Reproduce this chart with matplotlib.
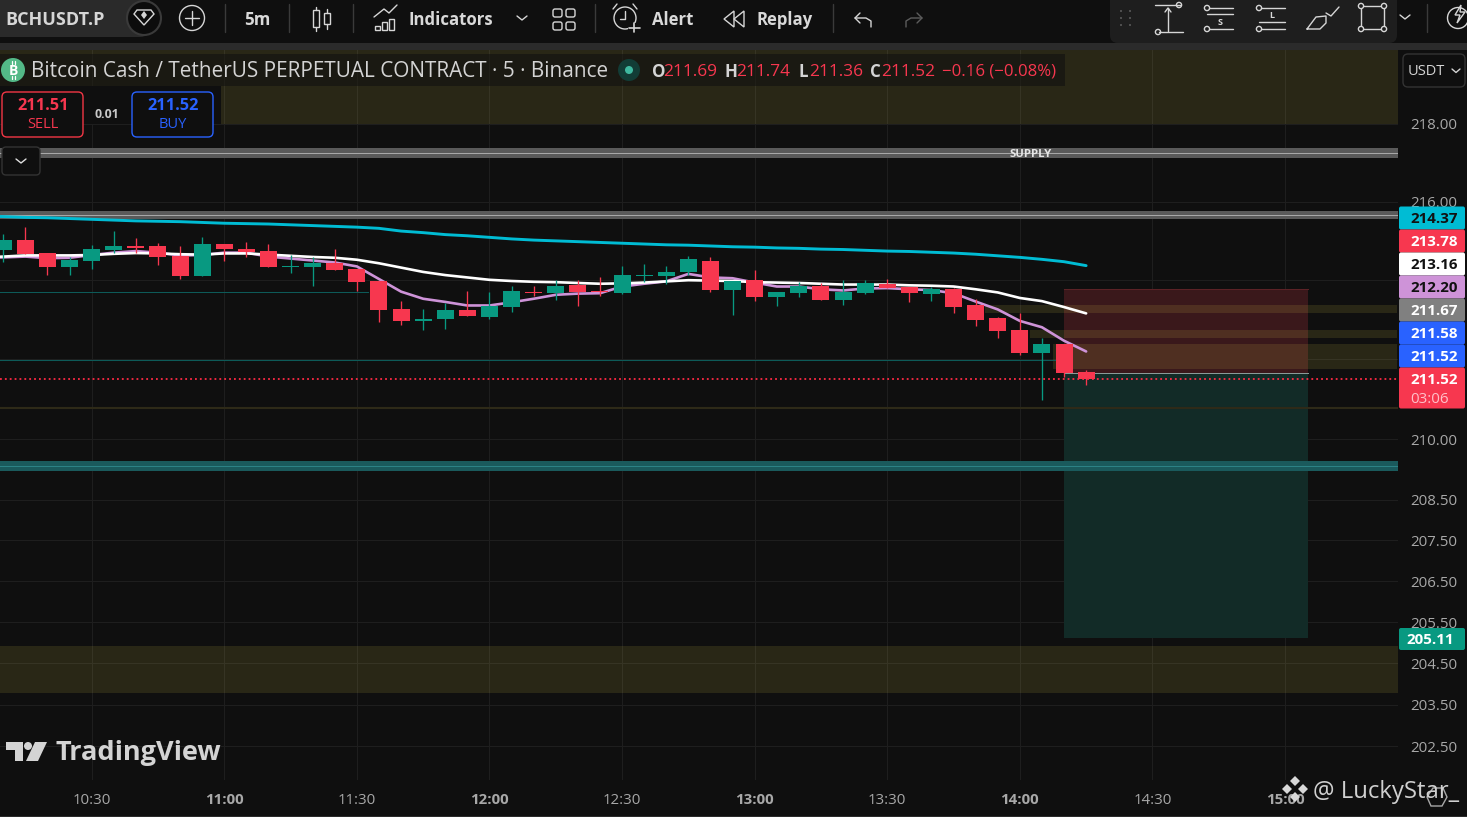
import matplotlib
matplotlib.use('Agg')
import matplotlib.pyplot as plt
from matplotlib.patches import Circle, FancyBboxPatch, Polygon, Rectangle
from matplotlib.ticker import FixedLocator, NullLocator

plt.rcParams['font.family'] = ['Open Sans', 'DejaVu Sans']

# candles, one per 5 minutes from 10:10
opens = [214.77, 215.02, 214.69, 214.34, 214.49, 214.77, 214.87, 214.87, 214.62, 214.11,
         214.92, 214.80, 214.74, 214.34, 214.34, 214.44, 214.29, 213.98, 213.27, 212.97,
         213.02, 213.25, 213.07, 213.32, 213.70, 213.68, 213.88, 213.73, 213.68, 214.11,
         214.11, 214.21, 214.49, 213.75, 214.01, 213.58, 213.68, 213.86, 213.50, 213.68,
         213.91, 213.83, 213.65, 213.78, 213.37, 213.04, 212.74, 212.15, 212.38, 211.69]
highs = [215.18, 215.35, 214.69, 214.59, 214.90, 215.25, 215.08, 214.95, 214.87, 215.10,
         214.92, 214.97, 214.92, 214.64, 214.59, 214.80, 214.29, 213.98, 213.47, 213.27,
         213.42, 213.73, 213.70, 213.86, 213.86, 214.01, 214.01, 214.08, 214.36, 214.41,
         214.36, 214.62, 214.59, 213.98, 214.26, 213.70, 213.96, 213.93, 214.01, 214.01,
         214.03, 213.83, 213.83, 213.80, 213.53, 213.07, 213.17, 212.53, 212.38, 211.74]
lows = [214.47, 214.67, 214.13, 214.13, 214.29, 214.69, 214.69, 214.39, 214.03, 214.11,
        214.49, 214.59, 214.34, 214.19, 213.86, 214.26, 213.73, 212.94, 212.86, 212.74,
        212.76, 213.09, 213.02, 213.20, 213.60, 213.50, 213.35, 213.60, 213.65, 213.96,
        213.91, 214.13, 213.70, 213.12, 213.47, 213.35, 213.58, 213.50, 213.37, 213.65,
        213.80, 213.45, 213.47, 213.17, 212.84, 212.53, 212.10, 210.99, 211.57, 211.36]
closes = [215.02, 214.67, 214.34, 214.52, 214.80, 214.87, 214.82, 214.59, 214.11, 214.92,
          214.80, 214.72, 214.34, 214.36, 214.44, 214.26, 213.96, 213.25, 212.97, 213.02,
          213.25, 213.09, 213.35, 213.73, 213.68, 213.86, 213.70, 213.70, 214.13, 214.13,
          214.21, 214.54, 213.75, 213.98, 213.58, 213.70, 213.86, 213.50, 213.70, 213.93,
          213.80, 213.68, 213.78, 213.32, 212.99, 212.71, 212.15, 212.38, 211.65, 211.52]

# moving averages, they start one bar before the first candle
ma_white = [214.58, 214.60, 214.63, 214.63, 214.63, 214.64, 214.67, 214.69, 214.68, 214.66, 214.65,
            214.68, 214.68, 214.65, 214.62, 214.59, 214.57, 214.52, 214.43, 214.32, 214.21,
            214.13, 214.07, 214.01, 213.98, 213.96, 213.95, 213.93, 213.91, 213.92, 213.94,
            213.97, 214.00, 213.99, 213.98, 213.95, 213.94, 213.93, 213.91, 213.89, 213.89,
            213.89, 213.87, 213.86, 213.84, 213.77, 213.69, 213.55, 213.47, 213.32, 213.16]
ma_purple = [214.56, 214.58, 214.60, 214.56, 214.57, 214.64, 214.70, 214.74, 214.70, 214.63, 214.64,
             214.70, 214.70, 214.60, 214.55, 214.50, 214.45, 214.35, 214.03, 213.71, 213.53,
             213.45, 213.36, 213.36, 213.44, 213.53, 213.63, 213.66, 213.67, 213.84, 213.91,
             213.97, 214.16, 214.07, 214.05, 213.94, 213.84, 213.84, 213.77, 213.74, 213.79,
             213.80, 213.77, 213.75, 213.67, 213.46, 213.26, 212.97, 212.81, 212.47, 212.20]
ma_cyan = [215.64, 215.62, 215.60, 215.59, 215.57, 215.55, 215.53, 215.51, 215.50, 215.49, 215.47,
           215.45, 215.44, 215.43, 215.41, 215.39, 215.37, 215.35, 215.32, 215.25, 215.21,
           215.16, 215.13, 215.09, 215.05, 215.02, 215.00, 214.98, 214.96, 214.94, 214.92,
           214.90, 214.89, 214.87, 214.85, 214.84, 214.82, 214.81, 214.79, 214.78, 214.76,
           214.74, 214.73, 214.71, 214.69, 214.66, 214.62, 214.58, 214.53, 214.47, 214.37]

# axis ticks
price_ticks = [218.0, 216.0, 214.0, 212.0, 210.0, 208.5, 207.5, 206.5, 205.5, 204.5, 203.5, 202.5]
price_labels = ['218.00', '216.00', '', '', '210.00', '208.50', '207.50', '206.50', '205.50',
                '204.50', '203.50', '202.50']
time_ticks = [4, 10, 16, 22, 28, 34, 40, 46, 52, 58]
time_labels = ['10:30', '11:00', '11:30', '12:00', '12:30', '13:00', '13:30', '14:00', '14:30', '15:00']

# levels drawn on the chart
top_zone = (218.0, 220.5)
bottom_zone = (203.78, 204.92)
small_zones = [(985, 213.17, 213.37), (1030, 212.54, 212.74), (1053, 211.75, 212.38)]
gray_bands = [(217.12, 217.38, 217.26), (215.56, 215.76, 215.66)]
teal_band = (209.21, 209.46, 209.35)
teal_lines = [(213.70, 16.5), (211.98, 48.0)]
yellow_line = 210.78
last_price = 211.52
entry, target_top, target_bottom = 211.65, 213.78, 205.11

# pills on the price scale
pill_texts = ['214.37', '213.78', '213.16', '212.20', '211.67', '211.58', '211.52']
pill_colors = ['#00bcd4', '#f7374f', '#ffffff', '#ce93d8', '#808080', '#2962ff', '#2962ff']
pill_fg = ['#111111', '#ffffff', '#111111', '#111111', '#ffffff', '#ffffff', '#ffffff']
pill_y = [218, 241, 264, 287, 310, 333, 356]

BG = '#0f0f0f'
RED = '#f7374f'
GREEN = '#089981'
ZONE = (1.0, 0.92, 0.34, 0.11)
ICON = '#d6d6d6'
TXT = '#d9d9d9'

W, H = 1467, 817
fig = plt.figure(figsize=(W / 100, H / 100), dpi=100, facecolor=BG)

# main pane, price scale is logarithmic
ax = fig.add_axes([0, 1 - 780 / H, 1397.5 / W, 730 / H], facecolor=BG)
ax.set_yscale('log')
ax.set_ylim(201.69, 219.92)
ax.set_xlim(-0.149, 63.09)
for s in ax.spines.values():
    s.set_visible(False)
ax.yaxis.tick_right()
ax.yaxis.set_major_locator(FixedLocator(price_ticks))
ax.yaxis.set_minor_locator(NullLocator())
ax.set_yticklabels(price_labels)
ax.set_xticks(time_ticks)
ax.set_xticklabels(time_labels)
ax.tick_params(length=0, labelsize=10.8, labelcolor='#a8a8a8')
ax.tick_params(axis='y', pad=9)
ax.tick_params(axis='x', pad=9)
for lab in ax.get_xticklabels():
    if lab.get_text().endswith(':00'):
        lab.set_fontweight('bold')
ax.grid(True, color='#1e1e1e', lw=0.75)
ax.set_axisbelow(True)

# zones and levels
ax.axhspan(top_zone[0], top_zone[1], color=ZONE, lw=0, zorder=1.2)
ax.axhspan(bottom_zone[0], bottom_zone[1], color=ZONE, lw=0, zorder=1.2)
ax.add_patch(Rectangle((48, entry), 11.05, target_top - entry, fc='#3a181b', ec='none', zorder=1))
ax.add_patch(Rectangle((48, target_bottom), 11.05, entry - target_bottom, fc='#122b27', ec='none', zorder=1))
ax.plot([48, 59.05], [target_top, target_top], color='#5c2226', lw=0.75, zorder=1.1)
ax.plot([48, 59.05], [entry, entry], color='#8a9a98', lw=0.72, zorder=1.1)
for x0, lo, hi in small_zones:
    ax.fill_between([(x0 - 3.3) / 22.096, 63.09], lo, hi, color=ZONE, lw=0, zorder=1.2)
for lo, hi, mid in gray_bands:
    ax.axhspan(lo, hi, color='#5a5a5a', lw=0, zorder=1.3)
    ax.axhline(mid, color='#a8a8a8', lw=0.72, zorder=1.4)
ax.axhspan(teal_band[0], teal_band[1], color='#1a5a5c', lw=0, zorder=1.3)
ax.axhline(teal_band[2], color='#2c8285', lw=0.72, zorder=1.4)
for level, end in teal_lines:
    ax.plot([-0.149, end], [level, level], color='#0d5a58', lw=0.75, zorder=1.4)
ax.axhline(yellow_line, color='#2e2a18', lw=1.5, zorder=1.4)
ax.text((1031 - 3.3) / 22.096, 217.22, 'SUPPLY', color='#e6e6e6', fontsize=8.2, fontweight='bold',
        ha='center', va='center', zorder=1.5)

# moving averages sit under the candles
idx = list(range(len(opens)))
idx_ma = list(range(-1, len(opens)))
ax.plot(idx_ma, ma_cyan, color='#00bcd4', lw=2.1, zorder=2, solid_capstyle='round')
ax.plot(idx_ma, ma_white, color='#ffffff', lw=1.9, zorder=2.2, solid_capstyle='round')
ax.plot(idx_ma, ma_purple, color='#ce93d8', lw=1.9, zorder=2.1, solid_capstyle='round')

# candles
for i in idx:
    col = GREEN if closes[i] >= opens[i] else RED
    ax.vlines(i, lows[i], highs[i], color=col, lw=0.95, zorder=3)
    lo = min(opens[i], closes[i])
    ax.bar(i, abs(closes[i] - opens[i]), bottom=lo, width=0.77, color=col, lw=0, zorder=3.1)
ax.axhline(last_price, color='#ff2a45', lw=1.3, ls=(0, (1.0, 1.7)), zorder=3.2)

# window chrome, in pixel coordinates
ui = fig.add_axes([0, 0, 1, 1], zorder=5)
ui.set_xlim(0, W)
ui.set_ylim(H, 0)
ui.axis('off')


def line(xs, ys, c=ICON, lw=1.0):
    ui.plot(xs, ys, color=c, lw=lw, solid_capstyle='round', solid_joinstyle='round')


def rrect(x, y, w, h, r, fc='none', ec='none', lw=1.0):
    ui.add_patch(FancyBboxPatch((x + r, y + r), w - 2 * r, h - 2 * r, boxstyle='round,pad=%s' % r,
                                fc=fc, ec=ec, lw=lw))


def ring(x, y, r, fc='none', ec=ICON, lw=1.0):
    ui.add_patch(Circle((x, y), r, fc=fc, ec=ec, lw=lw))


def label(x, y, s, c=TXT, size=12.5, weight='normal', ha='left'):
    # Open Sans sits a little high with va=center
    ui.text(x, y + 1.5, s, color=c, fontsize=size, fontweight=weight, ha=ha, va='center')


# toolbar strip
ui.add_patch(Rectangle((0, 0), W, 43, fc=BG, ec='none'))
ui.add_patch(Rectangle((0, 43), W, 6.5, fc='#2b2b2b', ec='none'))
ui.add_patch(Rectangle((0, 815.5), W, 1.5, fc='#2b2b2b', ec='none'))
rrect(-20, -10, 170, 47, 10, fc='#2a2a2a')
label(5, 18, 'BCHUSDT.P', c='#d6d6d6', size=13, weight='bold')
ring(144, 18, 17, fc='#0c0c0c', ec='#3a3a3a', lw=1.5)
ui.add_patch(Polygon([(134, 14), (137, 10), (151, 10), (154, 14), (144, 25)], fc='none', ec=ICON, lw=1))
ui.add_patch(Polygon([(144, 11), (147, 15), (144, 19), (141, 15)], fc=ICON, ec='none'))
ring(192, 18, 12.5)
line([185, 199], [18, 18])
line([192, 192], [11, 25])
for x in (225, 289, 353, 595, 833):
    line([x, x], [4, 32], c='#3a3a3a', lw=1)
label(257, 18, '5m', size=12.2, weight='bold', ha='center')
# candle icon
for x, y0, y1, t, b in ((316, 10, 27, 7, 31), (327, 13, 24, 9, 29)):
    ui.add_patch(Rectangle((x - 3, y0), 6, y1 - y0, fc='none', ec=ICON, lw=1))
    line([x, x], [t, y0])
    line([x, x], [y1, b])
# indicators icon
line([374, 384, 389, 397], [17, 9, 13, 5])
for x, y0 in ((375, 26), (382, 22), (389, 19)):
    ui.add_patch(Rectangle((x, y0), 5, 29.5 - y0, fc='none', ec=ICON, lw=1))
label(409, 18, 'Indicators', size=12.1, weight='bold')
line([517, 522, 527], [16, 20, 16])
for x in (553, 566):
    for y in (9, 22):
        rrect(x, y, 9, 8, 2, ec=ICON)
# alert icon
ring(625, 18, 11)
line([625, 625, 620], [11, 19, 19])
line([617, 613], [4, 9])
line([633, 637], [4, 9])
ui.add_patch(Rectangle((628, 23), 12, 9, fc=BG, ec='none'))
line([634, 634], [23, 32], lw=1.2)
line([629, 640], [27.5, 27.5], lw=1.2)
label(652, 18, 'Alert', size=12.1, weight='bold')
ui.add_patch(Polygon([(734, 11), (724, 19), (734, 27)], fc='none', ec=ICON, lw=1))
ui.add_patch(Polygon([(744, 11), (734, 19), (744, 27)], fc='none', ec=ICON, lw=1))
label(757, 18, 'Replay', size=12.1, weight='bold')
line([860, 855, 860], [13, 18, 23])
line([855, 866, 871, 871], [18, 18, 21, 27])
line([917, 922, 917], [13, 18, 23], c='#5c5c5c')
line([922, 911, 906, 906], [18, 18, 21, 27], c='#5c5c5c')

# drawing tools panel
rrect(1110, -12, 287, 55, 8, fc='#1e1e1e')
for x in (1121, 1130):
    for y in (11, 18, 25):
        ring(x, y, 1, fc='#5c5c5c', ec='none')
line([1155, 1180], [5, 5])
ring(1179, 5, 2.6, fc='#1e1e1e')
line([1159, 1183], [32, 32])
ring(1158, 32, 2.6, fc='#1e1e1e')
line([1168, 1168], [8, 31])
line([1165, 1168, 1171], [12, 8, 12])
line([1209, 1233], [8, 8])
ring(1207, 8, 2.6, fc='#1e1e1e')
line([1207, 1233], [14, 14])
label(1220, 21, 'S', size=6.5, weight='bold', ha='center')
line([1209, 1233], [29, 29])
ring(1207, 29, 2.6, fc='#1e1e1e')
line([1261, 1285], [8, 8])
ring(1259, 8, 2.6, fc='#1e1e1e')
label(1272, 14, 'L', size=6.5, weight='bold', ha='center')
line([1259, 1285], [22, 22])
line([1261, 1285], [29, 29])
ring(1259, 29, 2.6, fc='#1e1e1e')
line([1307, 1316, 1326, 1326, 1320, 1307], [29, 17, 16, 23, 29, 29])
line([1326, 1331, 1339], [13, 16, 7])
ui.add_patch(Rectangle((1361, 6), 23, 23, fc='none', ec=ICON, lw=1))
for x, y in ((1361, 6), (1384, 6), (1384, 29), (1361, 29)):
    ring(x, y, 2.6, fc='#1e1e1e')
line([1400, 1405, 1410], [15, 19, 15])
line([1427, 1427], [4, 32], c='#3a3a3a')
ring(1458, 18, 10.5)
ui.add_patch(Polygon([(1461, 5), (1455, 15), (1460, 15), (1457, 23), (1465, 12), (1460, 12)],
                     fc=BG, ec=ICON, lw=1))

# legend row over the chart
ui.add_patch(Rectangle((0, 54), 1065, 32, fc=BG, ec='none', alpha=0.55))
ui.add_patch(Rectangle((0, 86), 221, 38, fc=BG, ec='none'))
ring(13, 70, 12, fc='#53b987', ec='none')
# no installed family has the bitcoin sign, so it is a B with two strokes
ui.text(13, 71, 'B', color='#ffffff', fontsize=10, fontweight='bold', ha='center', va='center')
line([12, 12], [61, 64], c='#ffffff', lw=0.9)
line([15, 15], [61, 64], c='#ffffff', lw=0.9)
line([12, 12], [76, 79], c='#ffffff', lw=0.9)
line([15, 15], [76, 79], c='#ffffff', lw=0.9)
label(31, 70, 'Bitcoin Cash / TetherUS PERPETUAL CONTRACT · 5 · Binance', c='#d4d4d4', size=14.95)
ring(629, 70, 11, fc='#123c36', ec='none')
ring(629, 70, 4, fc='#3fb8a0', ec='none')
ohlc_x = [652, 725, 799, 870]
ohlc_key = ['O', 'H', 'L', 'C']
ohlc_val = ['211.69', '211.74', '211.36', '211.52']
for x, k, v in zip(ohlc_x, ohlc_key, ohlc_val):
    label(x, 70, k, c='#d4d4d4', size=12.2, weight='bold')
    label(x + (11 if k != 'L' else 10), 70, v, c=RED, size=12.4)
label(942, 70, '−0.16 (−0.08%)', c=RED, size=12.1)

# sell / buy
rrect(2, 92, 81, 45, 5, fc=BG, ec='#f23645', lw=1)
label(43, 104, '211.51', c=RED, size=11.8, weight='bold', ha='center')
label(43, 123, 'SELL', c=RED, size=10.5, ha='center')
label(107, 113, '0.01', c='#c8c8c8', size=8.8, weight='bold', ha='center')
rrect(132, 92, 81, 45, 5, fc=BG, ec='#2962ff', lw=1)
label(173, 104, '211.52', c='#2962ff', size=11.8, weight='bold', ha='center')
label(173, 123, 'BUY', c='#2962ff', size=10.5, ha='center')
rrect(2, 147, 38, 28, 4, fc=BG, ec='#333333', lw=1)
line([16, 21, 26], [159, 163, 159], c='#e0e0e0')

# currency box
ui.add_patch(Rectangle((1397.5, 50), W - 1397.5, 4, fc=BG, ec='none'))
rrect(1403, 54, 62, 33, 5, fc=BG, ec='#333333', lw=1)
label(1408, 70, 'USDT', c='#d4d4d4', size=10.5)
line([1452, 1456, 1460], [69, 72.5, 69], c='#d4d4d4')

# price pills
for s, c, fg, y in zip(pill_texts, pill_colors, pill_fg, pill_y):
    rrect(1399, y - 11.5, 66, 23, 2, fc=c)
    label(1434, y - 0.5, s, c=fg, size=10.9, weight='bold', ha='center')
rrect(1399, 367.5, 66, 41, 2, fc=RED)
label(1434, 378.5, '211.52', c='#ffffff', size=10.9, weight='bold', ha='center')
label(1430, 398, '03:06', c='#ffc0c8', size=10.9, ha='center')
rrect(1399, 628, 66, 22, 2, fc=GREEN)
label(1430, 638.5, '205.11', c='#ffffff', size=10.9, weight='bold', ha='center')

# tradingview mark
ui.add_patch(Polygon([(6, 742), (23, 742), (23, 761), (15, 761), (15, 750), (6, 750)], fc='#d4d4d4', ec='none'))
ring(28, 746, 4, fc='#d4d4d4', ec='none')
ui.add_patch(Polygon([(35, 742), (47, 742), (38, 761), (26, 761)], fc='#d4d4d4', ec='none'))
label(56, 751, 'TradingView', c='#d4d4d4', size=19.5, weight='bold')

# watermark
for dx, dy in ((0, -10), (-8, -2), (8, -2), (0, 6)):
    ui.add_patch(Polygon([(1295 + dx, 786 + dy), (1300 + dx, 791 + dy), (1295 + dx, 796 + dy),
                          (1290 + dx, 791 + dy)], fc='#d8d8d8', ec='none'))
label(1313, 790, '@ LuckyStar_', c='#d0d0d0', size=17.2)
ui.add_patch(Polygon([(1427, 797), (1433, 788), (1443, 788), (1447, 797), (1442, 806), (1431, 806)],
                     fc='none', ec='#a8a8a8', lw=1))

fig.savefig('out.png', dpi=100, facecolor=BG)
